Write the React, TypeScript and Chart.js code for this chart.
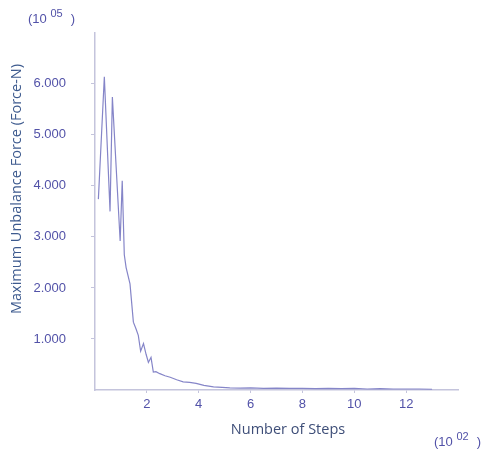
import React, { useEffect, useRef } from "react";
import { Chart, registerables } from "chart.js";

Chart.register(...registerables);

const stepsX: number[] = [
  0.13, 0.36, 0.58, 0.67, 0.97, 1.05, 1.13, 1.2, 1.35, 1.48, 1.58, 1.67, 1.76, 1.87, 1.97, 2.06, 2.16, 2.25,
  2.35, 2.5, 2.7, 2.9, 3.15, 3.4, 3.65, 3.9, 4.2, 4.57, 4.9, 5.2, 5.6, 6.0, 6.5, 7.0, 7.5, 8.0, 8.5, 9.0,
  9.5, 10.0, 10.5, 11.0, 11.5, 12.0, 12.5, 13.0,
];
const forceY: number[] = [
  3.74, 6.14, 3.5, 5.74, 2.92, 4.1, 2.65, 2.4, 2.08, 1.33, 1.2, 1.07, 0.76, 0.91, 0.7, 0.54, 0.64, 0.35,
  0.36, 0.32, 0.28, 0.25, 0.2, 0.16, 0.15, 0.13, 0.09, 0.06, 0.05, 0.04, 0.035, 0.04, 0.03, 0.035, 0.03, 0.03,
  0.025, 0.03, 0.025, 0.03, 0.02, 0.025, 0.02, 0.02, 0.02, 0.015,
];
const xTickValues: number[] = [2, 4, 6, 8, 10, 12];
const yTickValues: number[] = [1, 2, 3, 4, 5, 6];
const xTitle = "Number of Steps";
const yTitle = "Maximum Unbalance Force (Force-N)";
const yExponent = "05";
const xExponent = "02";

export default function App() {
  const ref = useRef<HTMLCanvasElement | null>(null);
  useEffect(() => {
    if (!ref.current) return;
    const tickColor = "#5252a8";
    const axisColor = "#c4c4dc";
    const drawExp = (ctx: CanvasRenderingContext2D, x: number, y: number, exp: string) => {
      ctx.save();
      ctx.fillStyle = tickColor;
      ctx.textBaseline = "alphabetic";
      ctx.textAlign = "left";
      ctx.font = "13px 'Liberation Sans', Arial, sans-serif";
      ctx.fillText("(10", x, y);
      const w = ctx.measureText("(10 ").width;
      ctx.font = "11px 'Liberation Sans', Arial, sans-serif";
      ctx.fillText(exp, x + w, y - 6);
      const w2 = ctx.measureText(exp).width;
      ctx.font = "13px 'Liberation Sans', Arial, sans-serif";
      ctx.fillText(")", x + w + w2 + 8, y);
      ctx.restore();
    };
    const titles = {
      id: "titles",
      afterDraw(chart: any) {
        const ctx: CanvasRenderingContext2D = chart.ctx;
        ctx.save();
        ctx.font = "14.5px 'Open Sans', 'Noto Sans', sans-serif";
        ctx.textAlign = "center";
        ctx.textBaseline = "middle";
        ctx.fillStyle = "#3e4e78";
        ctx.fillText(xTitle, 288, 430);
        ctx.translate(17, 189);
        ctx.rotate(-Math.PI / 2);
        ctx.fillStyle = "#3d5a8e";
        ctx.fillText(yTitle, 0, 0);
        ctx.restore();
        drawExp(ctx, 28, 23, yExponent);
        drawExp(ctx, 434, 446, xExponent);
      },
    };
    const chart = new Chart(ref.current, {
      type: "line",
      data: {
        datasets: [
          {
            data: stepsX.map((x, i) => ({ x, y: forceY[i] })),
            borderColor: "#8585c8",
            borderWidth: 1.2,
            pointRadius: 0,
            fill: false,
            tension: 0,
          },
        ],
      },
      options: {
        animation: false,
        responsive: false,
        maintainAspectRatio: false,
        layout: { padding: { left: 0, right: 32, top: 22, bottom: 0 } },
        plugins: { legend: { display: false }, tooltip: { enabled: false } },
        scales: {
          x: {
            type: "linear",
            min: 0,
            max: 14,
            border: { display: true, color: axisColor, width: 1.5 },
            grid: { display: true, drawOnChartArea: false, drawTicks: true, tickLength: 3, color: axisColor },
            afterBuildTicks: (axis: any) => {
              axis.ticks = xTickValues.map((v) => ({ value: v }));
            },
            ticks: {
              color: tickColor,
              padding: 4,
              maxRotation: 0,
              autoSkip: false,
              font: { family: "'Liberation Sans', Arial, sans-serif", size: 13 },
              callback: (v: any) => String(v),
            },
            afterFit: (axis: any) => {
              axis.height = 60;
            },
          },
          y: {
            type: "linear",
            min: 0,
            max: 7,
            border: { display: true, color: axisColor, width: 1.5 },
            grid: { display: true, drawOnChartArea: false, drawTicks: true, tickLength: 4, color: axisColor },
            afterBuildTicks: (axis: any) => {
              axis.ticks = yTickValues.map((v) => ({ value: v }));
            },
            ticks: {
              color: tickColor,
              padding: 25,
              autoSkip: false,
              font: { family: "'Liberation Sans', Arial, sans-serif", size: 13 },
              callback: (v: any) => Number(v).toFixed(3),
            },
            afterFit: (axis: any) => {
              axis.width = 95;
            },
          },
        },
      },
      plugins: [titles],
    } as any);
    return () => chart.destroy();
  }, []);
  return (
    <div style={{ position: "fixed", left: 0, top: 0, width: 490, height: 450, background: "#fff" }}>
      <canvas ref={ref} width={490} height={450} style={{ width: 490, height: 450 }} />
    </div>
  );
}
